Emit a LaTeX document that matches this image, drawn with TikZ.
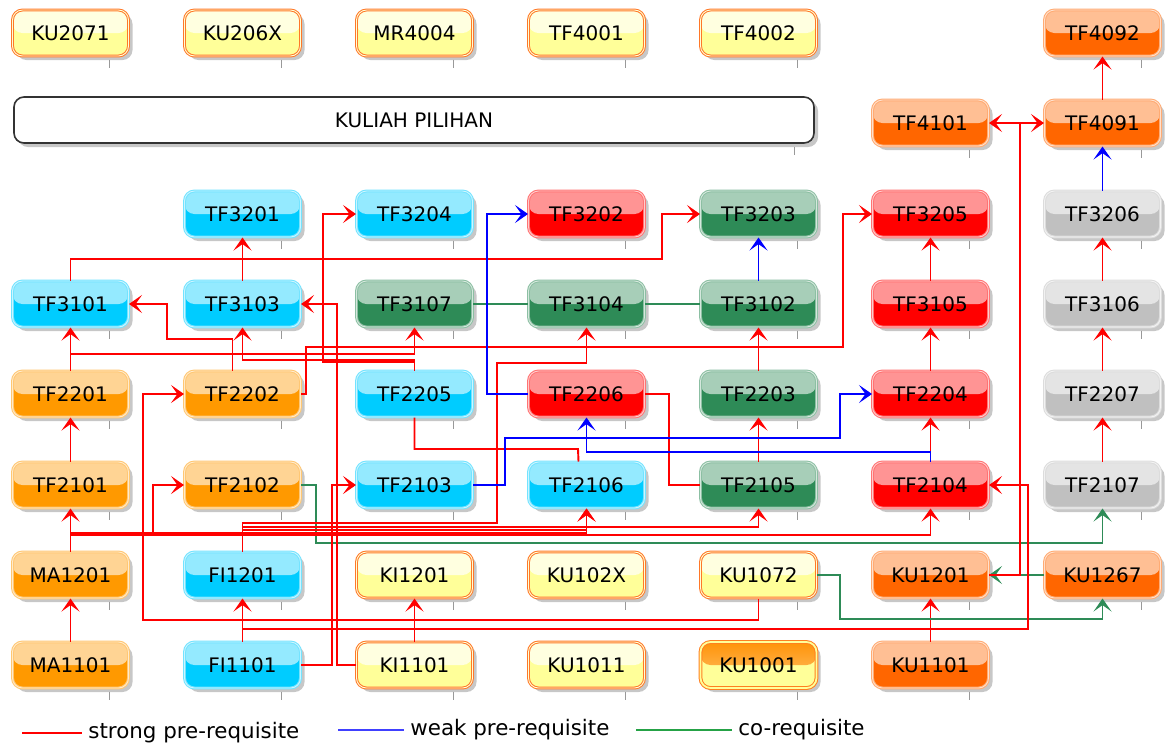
\documentclass[tikz,border=0pt]{standalone}
\usepackage{fontspec}
\setmainfont{DejaVu Sans}
\definecolor{courseCyan}{RGB}{0,204,255}
\definecolor{courseOrange}{RGB}{255,153,0}
\definecolor{courseRed}{RGB}{255,0,0}
\definecolor{courseGreen}{RGB}{46,139,87}
\definecolor{courseGray}{RGB}{192,192,192}
\definecolor{courseDark}{RGB}{255,102,0}
\definecolor{courseYellow}{RGB}{255,255,153}
\definecolor{electiveBorder}{RGB}{255,120,40}
\definecolor{linkRed}{RGB}{255,0,0}
\definecolor{linkBlue}{RGB}{0,0,255}
\definecolor{linkGreen}{RGB}{46,139,87}
\usetikzlibrary{arrows.meta,shadows}

\begin{document}
\begin{tikzpicture}[x=0.5pt,y=-0.5pt,
  course/.style={rounded corners=5pt,minimum width=58pt,minimum height=23pt,inner sep=0pt,
    font=\fontsize{10}{12}\selectfont,line width=0.5pt,double distance=0.45pt,
    drop shadow={shadow xshift=2pt,shadow yshift=-2pt,opacity=0.22,fill=black}},
  gloss/.style={course,fill=#1,draw=#1!55!white,double=#1!20!white,
    path picture={\fill[#1!42!white] (path picture bounding box.north west) rectangle (path picture bounding box.east);}},
  cyanbox/.style={gloss=courseCyan},
  orangebox/.style={gloss=courseOrange},
  redbox/.style={gloss=courseRed},
  greenbox/.style={gloss=courseGreen},
  graybox/.style={gloss=courseGray},
  darkbox/.style={gloss=courseDark},
  elective/.style={course,fill=courseYellow,draw=electiveBorder,double=courseYellow!40!white,
    path picture={\fill[courseYellow!30!white] (path picture bounding box.north west) rectangle (path picture bounding box.east);}},
  mandatory/.style={course,fill=courseYellow,draw=electiveBorder!80!courseOrange,double=courseYellow,double distance=0.9pt,
    path picture={\shade[top color=courseOrange!80!electiveBorder,bottom color=courseOrange!55!white] (path picture bounding box.north west) rectangle (path picture bounding box.east);}},
  groupbox/.style={rounded corners=5pt,draw=black!80,line width=0.8pt,fill=white,minimum width=400pt,minimum height=23pt,
    font=\fontsize{10}{12}\selectfont,drop shadow={shadow xshift=2pt,shadow yshift=-2pt,opacity=0.22,fill=black}},
  strong/.style={draw=linkRed,line width=0.95pt,-{Stealth[length=6.5pt,width=9pt,inset=3.2pt]}},
  weak/.style={draw=linkBlue,line width=0.85pt,-{Stealth[length=6.5pt,width=9pt,inset=3.2pt]}},
  coreq/.style={draw=linkGreen,line width=0.7pt,-{Stealth[length=6.5pt,width=9pt,inset=3.2pt]}},
  tickmark/.style={draw=black!40,line width=0.4pt},
  legendtext/.style={font=\fontsize{10.7}{12}\selectfont,inner sep=0pt,anchor=west},
]
\useasboundingbox (0,0) rectangle (1165,746);
% Electives
\node[elective] (ku2071) at (70.5,33) {KU2071};
\node[elective] (ku206x) at (242.5,33) {KU206X};
\node[elective] (mr4004) at (414.5,33) {MR4004};
\node[elective] (tf4001) at (586.5,33) {TF4001};
\node[elective] (tf4002) at (758.5,33) {TF4002};
\node[darkbox] (tf4092) at (1102.5,33) {TF4092};
\node[groupbox] (pilihan) at (414,120) {KULIAH PILIHAN};
\node[darkbox] (tf4101) at (930.5,123) {TF4101};
\node[darkbox] (tf4091) at (1102.5,123) {TF4091};
% Third year
\node[cyanbox] (tf3201) at (242.5,214) {TF3201};
\node[cyanbox] (tf3204) at (414.5,214) {TF3204};
\node[redbox] (tf3202) at (586.5,214) {TF3202};
\node[greenbox] (tf3203) at (758.5,214) {TF3203};
\node[redbox] (tf3205) at (930.5,214) {TF3205};
\node[graybox] (tf3206) at (1102.5,214) {TF3206};
\node[cyanbox] (tf3101) at (70.5,304) {TF3101};
\node[cyanbox] (tf3103) at (242.5,304) {TF3103};
\node[greenbox] (tf3107) at (414.5,304) {TF3107};
\node[greenbox] (tf3104) at (586.5,304) {TF3104};
\node[greenbox] (tf3102) at (758.5,304) {TF3102};
\node[redbox] (tf3105) at (930.5,304) {TF3105};
\node[graybox] (tf3106) at (1102.5,304) {TF3106};
% Second year
\node[orangebox] (tf2201) at (70.5,394) {TF2201};
\node[orangebox] (tf2202) at (242.5,394) {TF2202};
\node[cyanbox] (tf2205) at (414.5,394) {TF2205};
\node[redbox] (tf2206) at (586.5,394) {TF2206};
\node[greenbox] (tf2203) at (758.5,394) {TF2203};
\node[redbox] (tf2204) at (930.5,394) {TF2204};
\node[graybox] (tf2207) at (1102.5,394) {TF2207};
\node[orangebox] (tf2101) at (70.5,485) {TF2101};
\node[orangebox] (tf2102) at (242.5,485) {TF2102};
\node[cyanbox] (tf2103) at (414.5,485) {TF2103};
\node[cyanbox] (tf2106) at (586.5,485) {TF2106};
\node[greenbox] (tf2105) at (758.5,485) {TF2105};
\node[redbox] (tf2104) at (930.5,485) {TF2104};
\node[graybox] (tf2107) at (1102.5,485) {TF2107};
% First year
\node[orangebox] (ma1201) at (70.5,575) {MA1201};
\node[cyanbox] (fi1201) at (242.5,575) {FI1201};
\node[elective] (ki1201) at (414.5,575) {KI1201};
\node[elective] (ku102x) at (586.5,575) {KU102X};
\node[elective] (ku1072) at (758.5,575) {KU1072};
\node[darkbox] (ku1201) at (930.5,575) {KU1201};
\node[darkbox] (ku1267) at (1102.5,575) {KU1267};
\node[orangebox] (ma1101) at (70.5,665) {MA1101};
\node[cyanbox] (fi1101) at (242.5,665) {FI1101};
\node[elective] (ki1101) at (414.5,665) {KI1101};
\node[elective] (ku1011) at (586.5,665) {KU1011};
\node[mandatory] (ku1001) at (758.5,665) {KU1001};
\node[darkbox] (ku1101) at (930.5,665) {KU1101};
% small ticks under the boxes
\foreach \n in {ku2071,ku206x,mr4004,tf4001,tf4002,tf4092,pilihan,tf4101,tf4091,
  tf3201,tf3204,tf3202,tf3203,tf3205,tf3206,tf3101,tf3103,tf3107,tf3104,tf3102,tf3105,tf3106,
  tf2201,tf2202,tf2205,tf2206,tf2203,tf2204,tf2207,tf2101,tf2102,tf2103,tf2106,tf2105,tf2104,tf2107,
  ma1201,fi1201,ki1201,ku102x,ku1072,ku1201,ku1267,ma1101,fi1101,ki1101,ku1011,ku1001,ku1101}
  \draw[tickmark] ([xshift=-10pt,yshift=-1.5pt]\n.south east) -- ++(0,8);
% Straight prerequisites
\draw[strong] (tf4091) -- (tf4092);
\draw[weak] (tf3206) -- (tf4091);
\draw[strong] (tf3106) -- (tf3206);
\draw[strong] (tf2207) -- (tf3106);
\draw[strong] (tf2107) -- (tf2207);
\draw[strong] (tf3105) -- (tf3205);
\draw[strong] (tf2204) -- (tf3105);
\draw[strong] (tf2104) -- (tf2204);
\draw[weak] (tf3102) -- (tf3203);
\draw[strong] (tf2203) -- (tf3102);
\draw[strong] (tf2105) -- (tf2203);
\draw[strong] (tf3103) -- (tf3201);
\draw[strong] (tf2201) -- (tf3101);
\draw[strong] (tf2101) -- (tf2201);
\draw[strong] (ma1201) -- (tf2101);
\draw[strong] (ma1101) -- (ma1201);
\draw[strong] (fi1101) -- (fi1201);
\draw[strong] (ki1101) -- (ki1201);
\draw[strong] (ku1101) -- (ku1201);
% Co-requisites
\draw[coreq,-] (tf3107) -- (tf3104) -- (tf3102);
\draw[coreq] (ku1267) -- (ku1201);
\draw[coreq] (tf2102.east) -| (316,543) -| (tf2107.south);
\draw[coreq] (ku1072.east) -| (840,619) -| (ku1267.south);
% Routed strong prerequisites
\coordinate (tf41jct) at (1020,123);
\draw[strong] (ku1201.east) -| (tf41jct) -- (tf4101.east);
\draw[strong] (tf41jct) -- (tf4091.west);
\draw[strong] (fi1101.north) |- (1028,629) |- (tf2104.east);
\draw[strong] (ku1072.south) |- (143,620) |- (tf2202.west);
\draw[strong] (ma1201.north) |- (153,533) |- (tf2102.west);
\draw[strong] (ma1201.north) |- (586.5,533) -- (tf2106.south);
\draw[strong] (ma1201.north) |- (930.5,535) -- (tf2104.south);
\draw[strong] (fi1201.north) |- (497,523) |- (586.5,363) -- (tf3104.south);
\draw[strong] (fi1201.north) |- (758.5,527) -- (tf2105.south);
\draw[strong] (fi1201.north) |- (586.5,530) -- (tf2106.south);
\draw[strong] (fi1101.east) -| (332,485) -- (tf2103.west);
\draw[strong] (ki1101.west) -| (337,304) -- (tf3103.east);
\draw[strong] ([xshift=-5pt]tf2202.north) |- (167,339) |- (tf3101.east);
\draw[strong] (tf2202.east) -| (306,347) -| (843,214) -- (tf3205.west);
\draw[strong] (tf2201.north) |- (414.5,354) -- (tf3107.south);
\draw[strong] (tf2205.north) |- (242.5,360) -- (tf3103.south);
\draw[strong] (tf2205.north) |- (323,362) |- (tf3204.west);
\draw[strong] (tf3101.north) |- (662,259) |- (tf3203.west);
\draw[strong,-] (tf2206.east) -| (669,485) -- (tf2105.west);
\draw[strong,-] (tf2205.south) |- (578,449) -- ([xshift=-4pt]tf2106.north);
% Weak prerequisites
\draw[weak] (tf2206.west) -| (487,214) -- (tf3202.west);
\draw[weak] (tf2103.east) -| (505,438) -| (840,394) -- (tf2204.west);
\draw[weak] (tf2104.north) |- (586.5,452) -- (tf2206.south);
% Legend
\node[legendtext] (lgstrong) at (88,733) {strong pre-requisite};
\node[legendtext] (lgweak) at (410,730) {weak pre-requisite};
\node[legendtext] (lgcoreq) at (738,730) {co-requisite};
\coordinate (lgs) at (22,733);
\coordinate (lgw) at (338,730);
\coordinate (lgc) at (636,730);
\draw[draw=linkRed,line width=0.7pt] (lgs) -- ([xshift=-3pt]lgstrong.west);
\draw[draw=linkBlue!75!white,line width=0.7pt] (lgw) -- ([xshift=-3pt]lgweak.west);
\draw[draw=linkGreen!80!green,line width=0.7pt] (lgc) -- ([xshift=-3pt]lgcoreq.west);
\end{tikzpicture}
\end{document}
